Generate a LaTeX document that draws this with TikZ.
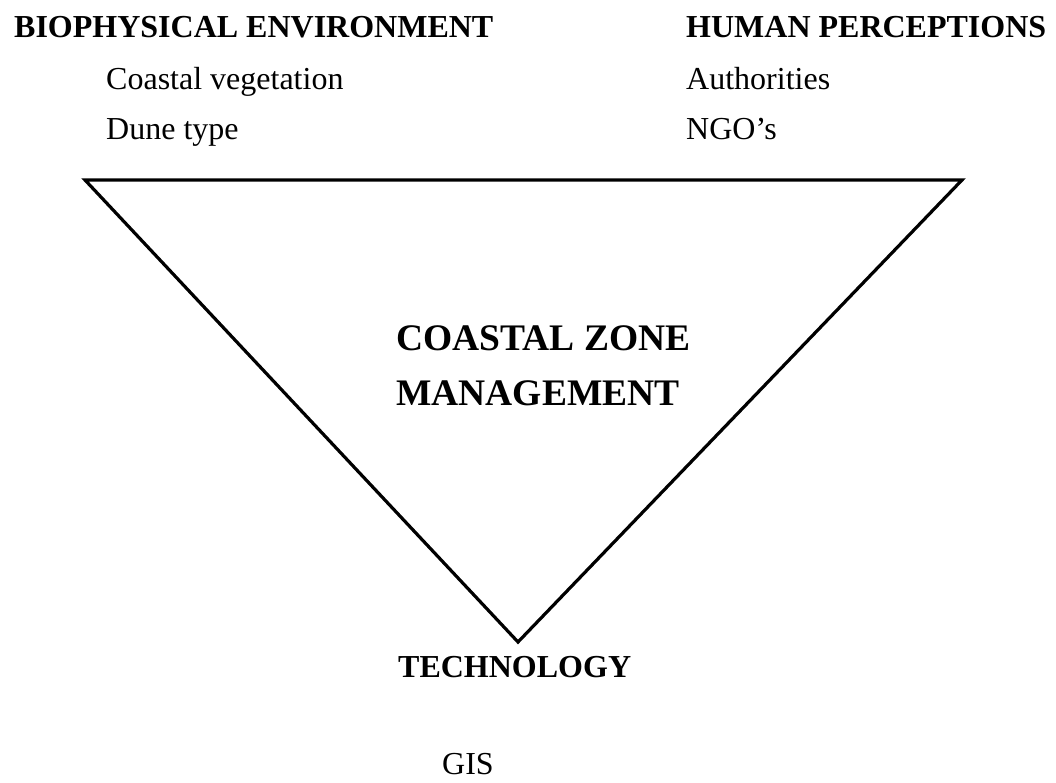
\documentclass[tikz,border=0pt]{standalone}
\usepackage{fontspec}
\setmainfont{Liberation Serif}
\usetikzlibrary{positioning}

\begin{document}
\begin{tikzpicture}[
  x=1pt, y=-1pt,
  every node/.style={inner sep=0pt, anchor=base west},
  headlabel/.style={font=\fontsize{32}{36}\selectfont\bfseries},
  itemlabel/.style={font=\fontsize{32}{36}\selectfont},
  centrelabel/.style={font=\fontsize{37.5}{42}\selectfont\bfseries}
]
\useasboundingbox (0,0) rectangle (1056,783);
% Corners of the triangle
\coordinate (tl) at (85,180);
\coordinate (tr) at (962,180);
\coordinate (bot) at (518,642);
\draw[line width=3.2pt, line join=miter] (tl) -- (tr) -- (bot) -- cycle;
% Biophysical side
\node[headlabel] (bio) at (14,38) {BIOPHYSICAL ENVIRONMENT};
\node[itemlabel] (veg) at (106,90) {Coastal vegetation};
\node[itemlabel] (dune) at (106,140) {Dune type};
% Human side
\node[headlabel] (human) at (686,38) {HUMAN PERCEPTIONS};
\node[itemlabel] (auth) at (686,90) {Authorities};
\node[itemlabel] (ngo) at (686,140) {NGO's};
% Centre
\node[centrelabel] (czm1) at (396,350) {COASTAL ZONE};
\node[centrelabel] (czm2) at (396,405) {MANAGEMENT};
% Technology
\node[headlabel] (tech) at (398,677) {TECHNOLOGY};
\node[itemlabel] (gis) at (442,774) {GIS};
\end{tikzpicture}
\end{document}
